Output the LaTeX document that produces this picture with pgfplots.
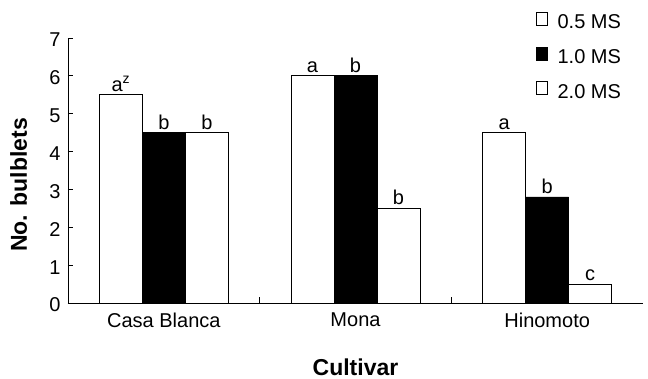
\documentclass[border=0pt]{standalone}
\usepackage{fontspec}
\setmainfont{Liberation Sans}
\usepackage{pgfplots}
\pgfplotsset{compat=1.18}
\begin{document}
\begin{tikzpicture}
\begin{axis}[
  at={(0,0)}, anchor=south west,
  scale only axis, width=575pt, height=265pt,
  xmin=-0.5, xmax=2.5, ymin=0, ymax=7,
  axis x line*=bottom, axis y line*=left,
  axis line style={line width=0.8pt},
  ybar=0pt, bar width=43pt,
  xtick={0,1,2}, xticklabels={Casa Blanca, Mona, Hinomoto},
  major x tick style={draw=none},
  minor xtick={0.5,1.5},
  ytick={0,1,...,7},
  tick align=inside, major tick length=5pt, minor tick length=6pt,
  tick style={line width=0.8pt, black},
  /pgf/number format/assume math mode=true,
  ticklabel style={font=\fontsize{20}{24}\selectfont},
  xticklabel style={yshift=-6pt},
  yticklabel style={xshift=-4pt, yshift=-2pt},
  xlabel={\bfseries Cultivar},
  ylabel={\bfseries No. bulblets},
  label style={font=\fontsize{23}{27}\selectfont},
  xlabel style={at={(axis description cs:0.5,-0.242)}, anchor=center},
  ylabel style={at={(axis description cs:-0.086,0.445)}, anchor=center, rotate=0},
  nodes near coords,
  point meta=explicit symbolic,
  nodes near coords style={font=\fontsize{20}{24}\selectfont, inner sep=3pt, black},
  legend style={draw=none, fill=none, at={(axis description cs:0.814,1.100)}, anchor=north west,
    font=\fontsize{20}{24}\selectfont, row sep=14pt, inner sep=0pt,
    nodes={inner sep=0pt, text height=14pt, text depth=4pt}},
  legend cell align=left,
  legend image code/.code={\path[draw=none, fill=none] (0pt,-1.5pt) rectangle (21pt,11.5pt);
    \draw[#1, line width=0.7pt] (0pt,-1.5pt) rectangle (11pt,11.5pt);},
]
\addplot[draw=black, fill=white, line width=0.8pt] coordinates {(0,5.5) [a\textsuperscript{z}] (1,6.0) [a] (2,4.5) [a]};
\addplot[draw=black, fill=black, line width=0.8pt] coordinates {(0,4.5) [b] (1,6.0) [b] (2,2.8) [b]};
\addplot[draw=black, fill=white, line width=0.8pt] coordinates {(0,4.5) [b] (1,2.5) [b] (2,0.5) [c]};
\legend{0.5 MS, 1.0 MS, 2.0 MS}
\end{axis}
\pgfresetboundingbox
\path[use as bounding box] (-68pt,-76pt) rectangle (580pt,303pt);
\end{tikzpicture}
\end{document}
